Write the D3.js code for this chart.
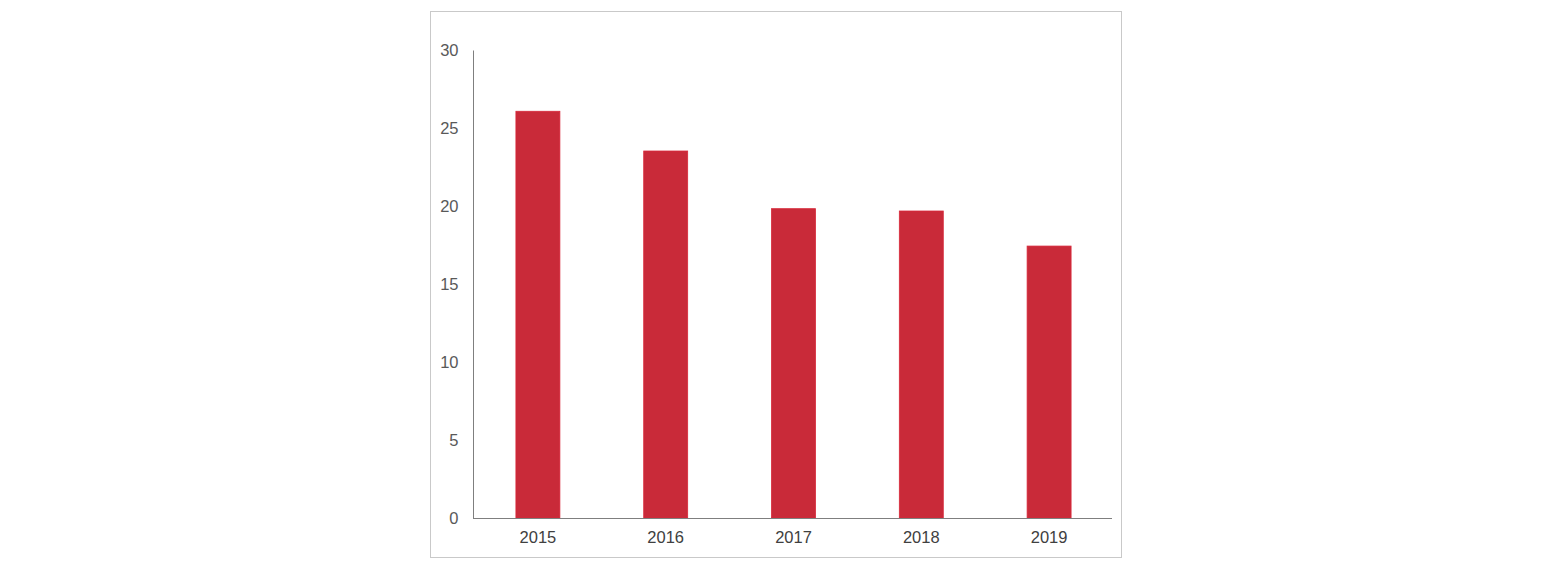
<!DOCTYPE html>
<html>
<head>
<meta charset="utf-8">
<script src="https://cdn.jsdelivr.net/npm/d3@7/dist/d3.min.js"></script>
<style>
html,body{margin:0;padding:0;background:#fff;}
svg{display:block;font-family:"Liberation Sans",Arial,sans-serif;}
</style>
</head>
<body>
<svg id="chart" width="1551" height="566"></svg>
<script>
const years = ["2015","2016","2017","2018","2019"];
const values = [26.1, 23.55, 19.85, 19.7, 17.45];
const yTicks = [0,5,10,15,20,25,30];

const svg = d3.select("#chart");

svg.append("rect")
  .attr("x",430.5).attr("y",11.5)
  .attr("width",691).attr("height",546)
  .attr("fill","#fff").attr("stroke","#c9c9c9").attr("stroke-width",1);

const x = d3.scaleBand().domain(years).range([474,1113]).paddingInner(0.656).paddingOuter(0.328);
const y = d3.scaleLinear().domain([0,30]).range([518,50.5]);

svg.selectAll("rect.bar").data(values).enter().append("rect")
  .attr("class","bar")
  .attr("x",(d,i)=>x(years[i]))
  .attr("y",d=>y(d))
  .attr("width",x.bandwidth())
  .attr("height",d=>y(0)-y(d))
  .attr("fill","#c92a39")
  .attr("stroke","#d8283a").attr("stroke-width",0.8);

const yAxis = svg.append("g").attr("transform","translate(473.5,0)")
  .call(d3.axisLeft(y).tickValues(yTicks).tickSize(0).tickPadding(15));
yAxis.select(".domain").attr("stroke","#7f7f7f").attr("stroke-width",1).attr("d","M0,"+y(30)+"V"+y(0));
yAxis.selectAll("text").attr("fill","#595959").attr("font-size",16.5).attr("font-family","Liberation Sans, Arial, sans-serif");

const xAxis = svg.append("g").attr("transform","translate(0,518.5)")
  .call(d3.axisBottom(x).tickSize(0).tickPadding(13));
xAxis.select(".domain").attr("stroke","#7f7f7f").attr("stroke-width",1).attr("d","M473,0H1112");
xAxis.selectAll("text").attr("fill","#404040").attr("font-size",16.5).attr("font-family","Liberation Sans, Arial, sans-serif");
</script>
</body>
</html>
